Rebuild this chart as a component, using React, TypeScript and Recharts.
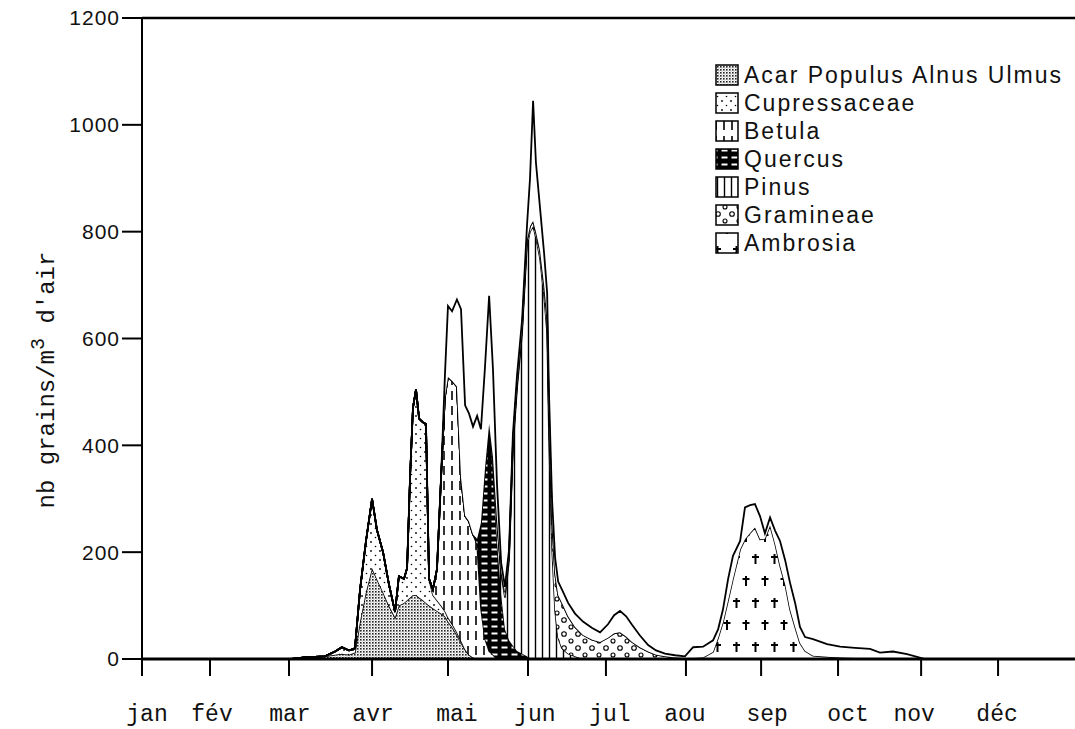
import React from 'react';
import { AreaChart, Area, XAxis, YAxis, ReferenceLine } from 'recharts';

// day of year for each sample
const days = [
  0, 57.9, 63.8, 71.6, 75.5, 78.2, 81.0, 83.3, 85.3, 87.6,
  90.0, 91.9, 94.3, 96.6, 99.0, 100.5, 102.5, 103.7, 104.9, 106.0,
  107.2, 108.4, 109.9, 111.1, 112.3, 113.8, 115.4, 117.0, 118.5, 119.7,
  121.3, 123.2, 124.8, 126.4, 127.9, 129.5, 131.1, 132.6, 134.2, 135.8,
  137.3, 138.9, 140.5, 142.0, 143.6, 145.1, 146.7, 148.7, 150.6, 151.8,
  153.0, 154.1, 155.7, 157.3, 158.5, 159.2, 160.4, 161.6, 162.8, 164.3,
  166.7, 169.4, 172.5, 176.1, 179.2, 182.3, 184.7, 187.0, 189.4, 191.7,
  194.8, 198.0, 201.1, 204.6, 208.5, 212.4, 215.6, 219.5, 223.4, 225.4,
  227.3, 229.3, 231.2, 234.0, 235.9, 237.9, 239.8, 241.8, 243.7, 245.7,
  247.7, 249.6, 251.6, 253.5, 255.5, 257.4, 259.4, 262.5, 268.0, 273.1,
  278.9, 284.8, 288.7, 293.8, 299.3, 303.2, 306.3, 365,
];

const acer = [
  0, 0, 3, 5, 8, 10, 8, 12, 70, 125,
  170, 150, 125, 100, 78, 100, 105, 110, 115, 120,
  120, 115, 110, 105, 100, 95, 90, 85, 80, 70,
  60, 45, 30, 18, 8, 3, 0, 0, 0, 0,
  0, 0, 0, 0, 0, 0, 0, 0, 0, 0,
  0, 0, 0, 0, 0, 0, 0, 0, 0, 0,
  0, 0, 0, 0, 0, 0, 0, 0, 0, 0,
  0, 0, 0, 0, 0, 0, 0, 0, 0, 0,
  0, 0, 0, 0, 0, 0, 0, 0, 0, 0,
  0, 0, 0, 0, 0, 0, 0, 0, 0, 0,
  0, 0, 0, 0, 0, 0, 0, 0,
];

const cupressaceae = [
  0, 0, 0, 0, 6, 12, 8, 8, 60, 95,
  130, 92, 75, 40, 10, 55, 45, 60, 230, 350,
  385, 335, 333, 335, 50, 25, 20, 15, 10, 8,
  6, 5, 4, 0, 0, 0, 0, 0, 0, 0,
  0, 0, 0, 0, 0, 0, 0, 0, 0, 0,
  0, 0, 0, 0, 0, 0, 0, 0, 0, 0,
  0, 0, 0, 0, 0, 0, 0, 0, 0, 0,
  0, 0, 0, 0, 0, 0, 0, 0, 0, 0,
  0, 0, 0, 0, 0, 0, 0, 0, 0, 0,
  0, 0, 0, 0, 0, 0, 0, 0, 0, 0,
  0, 0, 0, 0, 0, 0, 0, 0,
];

const betula = [
  0, 0, 0, 0, 0, 0, 0, 0, 0, 0,
  0, 0, 0, 0, 0, 0, 0, 0, 0, 0,
  0, 0, 0, 0, 0, 10, 58, 240, 400, 450,
  455, 460, 306, 250, 250, 230, 215, 95, 38, 15,
  8, 0, 0, 0, 0, 0, 0, 0, 0, 0,
  0, 0, 0, 0, 0, 0, 0, 0, 0, 0,
  0, 0, 0, 0, 0, 0, 0, 0, 0, 0,
  0, 0, 0, 0, 0, 0, 0, 0, 0, 0,
  0, 0, 0, 0, 0, 0, 0, 0, 0, 0,
  0, 0, 0, 0, 0, 0, 0, 0, 0, 0,
  0, 0, 0, 0, 0, 0, 0, 0,
];

const quercus = [
  0, 0, 0, 0, 0, 0, 0, 0, 0, 0,
  0, 0, 0, 0, 0, 0, 0, 0, 0, 0,
  0, 0, 0, 0, 0, 0, 0, 0, 0, 0,
  0, 0, 0, 0, 0, 0, 10, 160, 320, 425,
  350, 220, 120, 55, 35, 25, 15, 10, 5, 0,
  0, 0, 0, 0, 0, 0, 0, 0, 0, 0,
  0, 0, 0, 0, 0, 0, 0, 0, 0, 0,
  0, 0, 0, 0, 0, 0, 0, 0, 0, 0,
  0, 0, 0, 0, 0, 0, 0, 0, 0, 0,
  0, 0, 0, 0, 0, 0, 0, 0, 0, 0,
  0, 0, 0, 0, 0, 0, 0, 0,
];

const pinus = [
  0, 0, 0, 0, 0, 0, 0, 0, 0, 0,
  0, 0, 0, 0, 0, 0, 0, 0, 0, 0,
  0, 0, 0, 0, 0, 0, 0, 0, 0, 0,
  0, 0, 0, 0, 0, 0, 0, 0, 0, 0,
  20, 40, 40, 60, 150, 370, 490, 600, 770, 800,
  810, 790, 750, 680, 610, 420, 210, 90, 40, 20,
  10, 5, 0, 0, 0, 0, 0, 0, 0, 0,
  0, 0, 0, 0, 0, 0, 0, 0, 0, 0,
  0, 0, 0, 0, 0, 0, 0, 0, 0, 0,
  0, 0, 0, 0, 0, 0, 0, 0, 0, 0,
  0, 0, 0, 0, 0, 0, 0, 0,
];

const gramineae = [
  0, 0, 0, 0, 0, 0, 0, 0, 0, 0,
  0, 0, 0, 0, 0, 0, 0, 0, 0, 0,
  0, 0, 0, 0, 0, 0, 0, 0, 0, 0,
  0, 0, 0, 0, 0, 0, 0, 0, 0, 0,
  0, 0, 5, 10, 10, 10, 10, 10, 10, 10,
  10, 10, 15, 20, 30, 40, 55, 70, 80, 85,
  70, 55, 45, 36, 32, 40, 48, 50, 42, 32,
  22, 14, 8, 5, 3, 2, 2, 0, 0, 0,
  0, 0, 0, 0, 0, 0, 0, 0, 0, 0,
  0, 0, 0, 0, 0, 0, 0, 0, 0, 0,
  0, 0, 0, 0, 0, 0, 0, 0,
];

const ambrosia = [
  0, 0, 0, 0, 0, 0, 0, 0, 0, 0,
  0, 0, 0, 0, 0, 0, 0, 0, 0, 0,
  0, 0, 0, 0, 0, 0, 0, 0, 0, 0,
  0, 0, 0, 0, 0, 0, 0, 0, 0, 0,
  0, 0, 0, 0, 0, 0, 0, 0, 0, 0,
  0, 0, 0, 0, 0, 0, 0, 0, 0, 0,
  0, 0, 0, 0, 0, 0, 0, 0, 0, 0,
  0, 0, 0, 0, 0, 0, 0, 3, 13, 40,
  69, 110, 150, 205, 224, 236, 246, 224, 225, 250,
  215, 175, 140, 93, 60, 30, 15, 6, 4, 3,
  2, 2, 0, 0, 0, 0, 0, 0,
];

// unlabelled remainder (total pollen minus the listed taxa)
const autres = [
  0, 0, 0, 0, 0, 0, 0, 0, 0, 0,
  0, 0, 0, 0, 0, 0, 0, 0, 0, 0,
  0, 0, 0, 0, 0, 0, 0, 0, 40, 133,
  130, 163, 315, 207, 202, 202, 230, 175, 190, 240,
  165, 65, 15, 10, 10, 15, 15, 15, 25, 90,
  225, 130, 80, 60, 45, 40, 35, 30, 25, 25,
  25, 25, 25, 22, 18, 25, 34, 40, 38, 32,
  22, 12, 8, 5, 4, 3, 20, 20, 22, 16,
  24, 40, 43, 16, 60, 52, 44, 43, 10, 15,
  25, 46, 45, 50, 45, 30, 26, 31, 24, 20,
  19, 17, 12, 14, 9, 4, 0, 0,
];

const monthLabels = ['jan', 'fév', 'mar', 'avr', 'mai', 'jun', 'jul', 'aou', 'sep', 'oct', 'nov', 'déc'];
const monthTicks = [0, 26.6, 57.5, 90, 119.7, 151, 181.5, 212.8, 242.2, 272.3, 304.8, 334.9];
const yTicks = [0, 200, 400, 600, 800, 1000, 1200];

const taxa = [
  { key: 'acer', label: 'Acar Populus Alnus Ulmus', pattern: 'pat-acer' },
  { key: 'cupressaceae', label: 'Cupressaceae', pattern: 'pat-cupr' },
  { key: 'betula', label: 'Betula', pattern: 'pat-betula' },
  { key: 'quercus', label: 'Quercus', pattern: 'pat-quercus' },
  { key: 'pinus', label: 'Pinus', pattern: 'pat-pinus' },
  { key: 'gramineae', label: 'Gramineae', pattern: 'pat-gram' },
  { key: 'ambrosia', label: 'Ambrosia', pattern: 'pat-ambrosia' },
];

const data = days.map((d, i) => ({
  day: d,
  acer: acer[i],
  cupressaceae: cupressaceae[i],
  betula: betula[i],
  quercus: quercus[i],
  pinus: pinus[i],
  gramineae: gramineae[i],
  ambrosia: ambrosia[i],
  autres: autres[i],
}));

// small horizontal nudges of the typed month labels relative to their ticks
const labelNudge = [5, 2, 1, 1, 9, 7, 4, -1, 6, 10, -7, -1];

const MONO = '"Liberation Mono", "DejaVu Sans Mono", monospace';
const SANS = '"Liberation Sans", Arial, sans-serif';

const MonthTick = (props: any) => {
  const { x, y, payload } = props;
  const i = monthTicks.indexOf(payload.value);
  return (
    <text x={x + (labelNudge[i] || 0)} y={y + 43} textAnchor="middle" fontFamily={MONO} fontSize={23} fill="#111">
      {monthLabels[i]}
    </text>
  );
};

const Patterns = () => (
  <defs>
    <pattern id="pat-acer" patternUnits="userSpaceOnUse" width="3" height="3">
      <rect width="3" height="3" fill="#fff" />
      <rect x="0" y="0" width="1.6" height="1.6" fill="#222" />
      <rect x="1.6" y="1.6" width="0.9" height="0.9" fill="#777" />
    </pattern>
    <pattern id="pat-cupr" patternUnits="userSpaceOnUse" width="9" height="9">
      <rect width="9" height="9" fill="#fff" />
      <circle cx="2" cy="2" r="0.9" fill="#000" />
      <circle cx="6.5" cy="6.5" r="0.8" fill="#000" />
    </pattern>
    <pattern id="pat-betula" patternUnits="userSpaceOnUse" width="8" height="15">
      <rect width="8" height="15" fill="#fff" />
      <line x1="4" y1="1" x2="4" y2="10" stroke="#000" strokeWidth="1.6" />
    </pattern>
    <pattern id="pat-quercus" patternUnits="userSpaceOnUse" width="10" height="7">
      <rect width="10" height="7" fill="#000" />
      <rect x="1.5" y="2.5" width="6" height="2" fill="#fff" />
    </pattern>
    <pattern id="pat-pinus" patternUnits="userSpaceOnUse" width="7" height="10">
      <rect width="7" height="10" fill="#fff" />
      <line x1="3.5" y1="0" x2="3.5" y2="10" stroke="#000" strokeWidth="1.4" />
    </pattern>
    <pattern id="pat-gram" patternUnits="userSpaceOnUse" width="14" height="14">
      <rect width="14" height="14" fill="#fff" />
      <circle cx="4" cy="4" r="2.3" fill="none" stroke="#000" strokeWidth="1.1" />
      <circle cx="11" cy="11" r="2" fill="none" stroke="#000" strokeWidth="1.1" />
    </pattern>
    <pattern id="pat-ambrosia" patternUnits="userSpaceOnUse" width="19" height="44">
      <rect width="19" height="44" fill="#fff" />
      <line x1="5" y1="4" x2="5" y2="14" stroke="#000" strokeWidth="2" />
      <line x1="1.5" y1="7" x2="8.5" y2="7" stroke="#000" strokeWidth="2" />
      <line x1="14.5" y1="26" x2="14.5" y2="36" stroke="#000" strokeWidth="2" />
      <line x1="11" y1="29" x2="18" y2="29" stroke="#000" strokeWidth="2" />
    </pattern>
  </defs>
);

export default function App() {
  const legendTop = 75;
  const legendStep = 28;
  return (
    <div style={{ position: 'absolute', left: 0, top: 0, width: 1075, height: 729, background: '#fff' }}>
      <svg width={0} height={0} style={{ position: 'absolute' }}>
        <Patterns />
      </svg>
      <div style={{ position: 'absolute', left: 0, top: 0 }}>
        <AreaChart width={1075} height={729} data={data} margin={{ top: 18, right: 0, bottom: 0, left: 0 }}>
          <XAxis
            dataKey="day"
            type="number"
            domain={[0, 365]}
            ticks={monthTicks}
            interval={0}
            height={70}
            tickSize={17}
            tickLine={{ stroke: '#000', strokeWidth: 2 }}
            axisLine={{ stroke: '#000', strokeWidth: 3 }}
            tick={<MonthTick />}
            allowDataOverflow
          />
          <YAxis
            type="number"
            domain={[0, 1200]}
            ticks={yTicks}
            interval={0}
            width={142}
            tickSize={20}
            tickMargin={2}
            tickLine={{ stroke: '#000', strokeWidth: 2 }}
            axisLine={{ stroke: '#000', strokeWidth: 2 }}
            tick={{ fill: '#111', fontSize: 21, fontFamily: SANS, letterSpacing: 1 }}
            allowDataOverflow
          />
          <ReferenceLine y={1200} stroke="#000" strokeWidth={2.5} />
          {taxa.map((t) => (
            <Area
              key={t.key}
              type="linear"
              dataKey={t.key}
              stackId="s"
              stroke="#000"
              strokeWidth={1.6}
              fill={`url(#${t.pattern})`}
              fillOpacity={1}
              isAnimationActive={false}
              dot={false}
              activeDot={false}
            />
          ))}
          <Area
            type="linear"
            dataKey="autres"
            stackId="s"
            stroke="#000"
            strokeWidth={1.8}
            fill="#fff"
            fillOpacity={1}
            isAnimationActive={false}
            dot={false}
            activeDot={false}
          />
        </AreaChart>
      </div>
      <svg width={1075} height={729} style={{ position: 'absolute', left: 0, top: 0, pointerEvents: 'none' }}>
        <text
          transform="translate(54,380) rotate(-90)"
          textAnchor="middle"
          fontFamily={MONO}
          fontSize={24}
          fill="#111"
        >
          nb grains/m
          <tspan dy={-10} fontSize={20}>3</tspan>
          <tspan dy={10}> d'air</tspan>
        </text>
        {taxa.map((t, i) => {
          const cy = legendTop + i * legendStep;
          return (
            <g key={t.key}>
              <rect x={716} y={cy - 10} width={22} height={20} fill={`url(#${t.pattern})`} stroke="#000" strokeWidth={1.5} />
              <text x={744} y={cy} dominantBaseline="central" fontFamily={SANS} fontSize={23} letterSpacing={2} fill="#111">
                {t.label}
              </text>
            </g>
          );
        })}
      </svg>
    </div>
  );
}
